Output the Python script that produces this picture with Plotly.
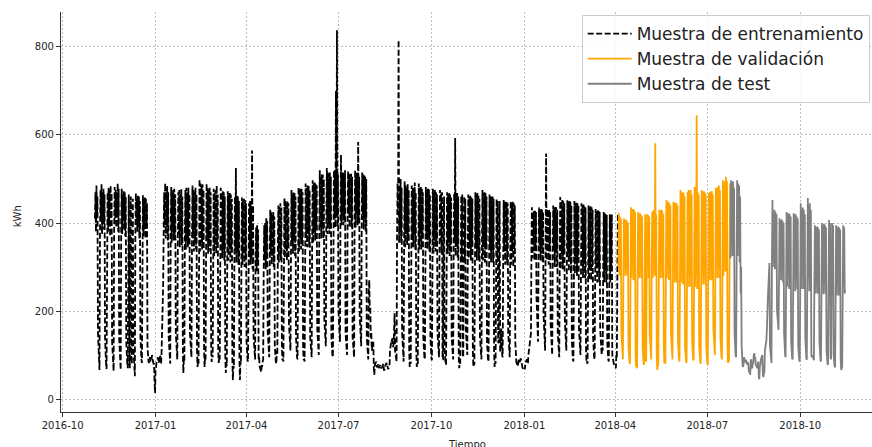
import pandas as pd
import plotly.graph_objects as go

# Energy consumption (kWh) sampled twice a day (00:00, 12:00);
# one row per Monday-Sunday week, values given as (night, midday) pairs.
train_start = "2016-11-02"
train_kwh = [
    410, 470, 380, 485, 415, 460, 150, 95, 80, 66,                        # 2016-11-02 .. 11-06
    380, 475, 410, 488, 375, 470, 400, 478, 385, 465, 140, 92, 80, 68,    # 11-07
    405, 470, 380, 480, 400, 472, 370, 486, 410, 468, 130, 88, 75, 64,    # 11-14
    385, 482, 410, 475, 390, 470, 415, 490, 380, 478, 135, 90, 78, 66,    # 11-21
    400, 478, 375, 465, 410, 472, 385, 470, 370, 460, 130, 85, 80, 70,    # 11-28
    380, 465, 90, 70, 395, 460, 90, 80, 365, 455, 120, 90, 70, 52,        # 12-05
    370, 468, 400, 455, 380, 462, 395, 460, 365, 450, 140, 95, 90, 82,    # 12-12
    395, 463, 370, 455, 385, 460, 365, 455, 390, 445, 120, 90, 85, 82,    # 12-19
    90, 95, 85, 88, 90, 100, 85, 85, 80, 80, 40, 14, 70, 72,              # 12-26
    85, 90, 88, 95, 82, 85, 90, 100, 80, 80, 110, 150, 200, 260,          # 2017-01-02
    370, 470, 395, 490, 365, 480, 390, 485, 360, 470, 140, 104, 90, 80,   # 01-09
    385, 482, 355, 470, 380, 475, 360, 478, 375, 465, 150, 111, 100, 90,  # 01-16
    350, 470, 375, 475, 345, 465, 370, 478, 350, 460, 110, 59, 90, 85,    # 01-23
    370, 475, 340, 480, 365, 470, 345, 480, 360, 465, 150, 118, 100, 95,  # 01-30
    340, 485, 365, 475, 335, 470, 360, 480, 340, 465, 110, 73, 85, 80,    # 02-06
    365, 500, 335, 490, 355, 485, 340, 488, 360, 475, 110, 73, 95, 90,    # 02-13
    335, 490, 360, 480, 330, 475, 355, 482, 335, 470, 120, 84, 100, 95,   # 02-20
    355, 478, 325, 470, 350, 475, 330, 485, 345, 465, 115, 82, 95, 90,    # 02-27
    325, 480, 345, 470, 320, 472, 340, 470, 315, 460, 100, 59, 80, 75,    # 03-06
    345, 472, 315, 465, 340, 468, 310, 465, 335, 455, 90, 43, 75, 70,     # 03-13
    315, 460, 340, 525, 310, 462, 335, 460, 305, 450, 90, 43, 85, 80,     # 03-20
    335, 458, 305, 450, 330, 455, 300, 452, 325, 445, 130, 95, 90, 85,    # 03-27
    300, 445, 325, 450, 305, 440, 320, 565, 295, 440, 140, 111, 95, 90,   # 04-03
    320, 390, 290, 395, 310, 385, 90, 95, 75, 70, 70, 61, 75, 75,         # 04-10
    85, 90, 290, 395, 315, 400, 295, 411, 320, 405, 150, 130, 100, 95,    # 04-17
    300, 430, 330, 425, 305, 420, 325, 425, 300, 415, 120, 89, 85, 80,    # 04-24
    110, 100, 335, 440, 310, 438, 340, 445, 315, 435, 120, 89, 90, 85,    # 05-01
    345, 457, 320, 450, 340, 448, 315, 450, 345, 445, 170, 141, 115, 110, # 05-08
    325, 475, 355, 465, 330, 470, 360, 468, 325, 460, 140, 104, 95, 90,   # 05-15
    360, 482, 335, 475, 365, 478, 340, 478, 360, 470, 120, 89, 90, 85,    # 05-22
    340, 490, 370, 480, 345, 485, 375, 485, 345, 475, 140, 111, 100, 95,  # 05-29
    380, 497, 355, 490, 380, 492, 360, 490, 385, 485, 160, 127, 105, 100, # 06-05
    360, 520, 390, 505, 365, 510, 395, 510, 365, 500, 180, 150, 125, 120, # 06-12
    395, 525, 375, 515, 400, 512, 375, 515, 395, 505, 140, 104, 100, 95,  # 06-19
    380, 520, 410, 520, 390, 700, 415, 838, 390, 510, 200, 164, 135, 130, # 06-26
    415, 555, 395, 515, 420, 515, 395, 510, 415, 520, 150, 118, 105, 100, # 07-03
    395, 518, 420, 510, 390, 512, 415, 512, 390, 505, 140, 111, 100, 95,  # 07-10
    415, 520, 390, 515, 420, 510, 395, 584, 410, 505, 190, 161, 125, 120, # 07-17
    390, 515, 420, 510, 385, 508, 415, 505, 380, 500, 140, 111, 95, 90,   # 07-24
    250, 270, 200, 210, 140, 150, 110, 115, 120, 130, 70, 55, 78, 80,     # 07-31
    80, 85, 72, 75, 78, 80, 70, 72, 75, 78, 72, 70, 72, 74,               # 08-07
    78, 80, 66, 65, 74, 76, 80, 82, 72, 75, 68, 70, 70, 73,               # 08-14
    110, 120, 125, 135, 130, 141, 118, 125, 150, 195, 110, 95, 88, 85,    # 08-21
    380, 490, 420, 816, 355, 470, 385, 500, 355, 480, 150, 111, 90, 85,   # 08-28
    375, 495, 345, 485, 380, 480, 350, 488, 370, 475, 110, 73, 85, 80,    # 09-04
    345, 485, 375, 480, 345, 478, 380, 492, 340, 470, 110, 73, 80, 78,    # 09-11
    370, 490, 340, 480, 375, 482, 340, 480, 365, 470, 140, 104, 95, 90,   # 09-18
    340, 482, 365, 475, 340, 478, 365, 478, 335, 465, 140, 104, 92, 88,   # 09-25
    365, 478, 330, 470, 360, 475, 335, 470, 360, 465, 150, 116, 100, 95,  # 10-02
    335, 475, 360, 468, 330, 470, 90, 90, 355, 460, 110, 82, 80, 78,      # 10-09
    360, 470, 330, 465, 355, 468, 325, 465, 350, 458, 140, 111, 95, 90,   # 10-16
    330, 468, 355, 593, 325, 465, 350, 468, 320, 460, 100, 70, 82, 80,    # 10-23
    355, 462, 320, 465, 100, 95, 350, 460, 320, 455, 160, 134, 105, 100,  # 10-30
    345, 465, 320, 460, 350, 462, 315, 458, 345, 455, 110, 73, 80, 78,    # 11-06
    320, 470, 345, 465, 315, 468, 345, 462, 315, 455, 140, 111, 95, 90,   # 11-13
    345, 475, 315, 468, 345, 470, 310, 468, 340, 460, 130, 95, 90, 85,    # 11-20
    315, 465, 340, 460, 310, 462, 340, 460, 310, 455, 110, 73, 85, 80,    # 11-27
    340, 455, 310, 450, 130, 127, 335, 450, 110, 110, 160, 150, 100, 95,  # 12-04
    310, 452, 335, 448, 305, 450, 335, 448, 305, 445, 150, 118, 100, 95,  # 12-11
    335, 450, 305, 445, 335, 448, 300, 445, 330, 440, 130, 95, 85, 80,    # 12-18
    80, 75, 88, 90, 85, 85, 90, 92, 82, 80, 72, 70, 68, 66,               # 12-25
    70, 68, 82, 85, 88, 90, 80, 82, 100, 110, 120, 130, 140, 150,         # 2018-01-01
    355, 436, 320, 425, 350, 430, 315, 428, 345, 425, 230, 195, 140, 130, # 01-08
    320, 435, 350, 430, 315, 432, 345, 430, 310, 425, 190, 157, 120, 110, # 01-15
    350, 558, 315, 432, 345, 430, 305, 432, 340, 425, 170, 134, 110, 100, # 01-22
    305, 440, 340, 436, 300, 438, 335, 436, 300, 430, 150, 118, 100, 95,  # 01-29
    335, 459, 295, 450, 330, 452, 295, 450, 330, 445, 180, 150, 115, 110, # 02-05
    295, 452, 325, 448, 290, 450, 320, 448, 285, 440, 130, 95, 90, 85,    # 02-12
    320, 450, 285, 445, 315, 446, 280, 445, 315, 440, 160, 127, 105, 100, # 02-19
    280, 445, 310, 440, 275, 442, 310, 440, 275, 435, 110, 82, 85, 80,    # 02-26
    310, 440, 270, 436, 305, 438, 270, 436, 300, 430, 140, 104, 95, 90,   # 03-05
    270, 432, 300, 428, 265, 430, 300, 428, 265, 425, 160, 134, 105, 100, # 03-12
    120, 110, 300, 425, 265, 422, 295, 420, 265, 418, 130, 95, 90, 85,    # 03-19
    295, 420, 265, 418, 300, 420, 100, 89, 85, 80, 78, 75, 72, 70,        # 03-26
    100, 95, 285, 420,                                                    # 04-02 .. 04-03
]

val_start = "2018-04-04"
val_kwh = [
    300, 422, 280, 415, 300, 410, 150, 111, 95, 90,                       # 04-04 .. 04-08
    280, 410, 305, 405, 280, 408, 300, 405, 280, 400, 120, 89, 85, 80,    # 04-09
    305, 436, 275, 430, 300, 432, 270, 430, 300, 425, 110, 73, 75, 70,    # 04-16
    280, 425, 305, 420, 275, 422, 300, 418, 275, 415, 120, 82, 80, 78,    # 04-23
    300, 420, 90, 85, 275, 420, 305, 418, 275, 415, 150, 111, 95, 90,     # 04-30
    305, 425, 275, 428, 305, 430, 280, 581, 300, 420, 100, 66, 78, 75,    # 05-07
    275, 430, 305, 428, 275, 430, 300, 428, 275, 420, 120, 82, 85, 80,    # 05-14
    300, 452, 275, 445, 300, 448, 270, 445, 295, 440, 150, 111, 95, 90,   # 05-21
    270, 448, 295, 445, 265, 446, 295, 445, 265, 440, 130, 95, 90, 85,    # 05-28
    295, 475, 265, 468, 290, 470, 260, 468, 290, 460, 120, 89, 85, 82,    # 06-04
    255, 470, 285, 475, 255, 472, 280, 475, 255, 465, 130, 95, 90, 88,    # 06-11
    285, 482, 255, 475, 280, 645, 250, 470, 280, 465, 120, 89, 85, 80,    # 06-18
    260, 475, 290, 470, 260, 472, 285, 470, 260, 465, 120, 82, 80, 78,    # 06-25
    300, 468, 270, 470, 300, 472, 270, 472, 300, 465, 160, 127, 105, 100, # 07-02
    275, 480, 305, 478, 275, 482, 300, 485, 275, 475, 140, 104, 95, 90,   # 07-09
    310, 497, 280, 490, 315, 495, 290, 505, 320, 495, 120, 82, 88, 85,    # 07-16
    300, 490,                                                             # 07-23
]

test_start = "2018-07-24"
test_kwh = [
    320, 497, 350, 490, 325, 495, 345, 480, 150, 104, 100, 95,            # 07-24 .. 07-29
    345, 497, 325, 490, 350, 485, 310, 460, 240, 300, 120, 80, 75, 73,    # 07-30
    90, 95, 85, 85, 88, 88, 80, 80, 82, 82, 65, 60, 58, 55,               # 08-06
    88, 90, 72, 70, 80, 82, 100, 104, 92, 95, 78, 75, 72, 70,             # 08-13
    80, 85, 50, 45, 75, 78, 90, 95, 95, 100, 55, 50, 58, 60,              # 08-20
    110, 120, 125, 134, 160, 180, 230, 260, 280, 309, 120, 95, 85, 82,    # 08-27
    320, 452, 300, 420, 325, 430, 295, 425, 315, 420, 200, 172, 165, 157, # 09-03
    275, 411, 300, 405, 270, 408, 295, 405, 265, 400, 150, 111, 100, 95,  # 09-10
    290, 425, 255, 420, 280, 422, 250, 420, 275, 415, 130, 95, 92, 90,    # 09-17
    250, 422, 275, 418, 245, 420, 270, 415, 250, 410, 120, 89, 88, 85,    # 09-24
    280, 445, 250, 430, 280, 435, 250, 430, 275, 420, 140, 104, 92, 89,   # 10-01
    250, 457, 275, 440, 245, 445, 265, 430, 100, 95, 100, 95, 90, 88,     # 10-08
    270, 395, 240, 390, 265, 392, 240, 390, 265, 385, 130, 95, 88, 85,    # 10-15
    240, 400, 262, 395, 238, 398, 260, 395, 240, 390, 110, 82, 80, 78,    # 10-22
    262, 407, 235, 400, 95, 90, 260, 400, 238, 395, 100, 77, 75, 72,      # 10-29
    258, 395, 235, 390, 260, 392, 235, 390, 255, 385, 90, 66, 72, 70,     # 11-05
    240, 395, 258, 390, 240, 248,                                         # 11-12 .. 11-14
]

x_ticks = ["2016-10", "2017-01", "2017-04", "2017-07", "2017-10",
           "2018-01", "2018-04", "2018-07", "2018-10"]
y_ticks = [0, 200, 400, 600, 800]

train_dates = pd.date_range(train_start, periods=len(train_kwh), freq="12h")
val_dates = pd.date_range(val_start, periods=len(val_kwh), freq="12h")
test_dates = pd.date_range(test_start, periods=len(test_kwh), freq="12h")

fig = go.Figure()
fig.add_trace(go.Scatter(
    x=train_dates, y=train_kwh, mode="lines", name="Muestra de entrenamiento",
    line=dict(color="black", width=1.8, dash="6px,2.5px"),
))
fig.add_trace(go.Scatter(
    x=val_dates, y=val_kwh, mode="lines", name="Muestra de validación",
    line=dict(color="#FFA500", width=1.8),
))
fig.add_trace(go.Scatter(
    x=test_dates, y=test_kwh, mode="lines", name="Muestra de test",
    line=dict(color="#808080", width=1.8),
))

axis_style = dict(
    showline=True, linecolor="#333333", linewidth=1.2,
    ticks="outside", ticklen=4, tickcolor="#333333", tickwidth=1,
    showgrid=True, gridcolor="#bdbdbd", gridwidth=0.8, griddash="2px,2px",
    zeroline=False, mirror=False,
    tickfont=dict(family="DejaVu Sans", size=10, color="#222222"),
)

fig.update_xaxes(
    type="date", range=["2016-09-29 10:00", "2018-12-11"],
    tickvals=[t + "-01" for t in x_ticks], ticktext=x_ticks,
    **axis_style,
)
fig.update_yaxes(
    range=[-29.5, 879.5], tickvals=y_ticks,
    **axis_style,
)

fig.update_layout(
    width=872, height=447,
    margin=dict(l=61, r=0, t=12, b=35),
    plot_bgcolor="white", paper_bgcolor="white",
    font=dict(family="DejaVu Sans", size=10, color="#222222"),
    showlegend=True,
    legend=dict(
        x=0.642, y=0.9925, xanchor="left", yanchor="top",
        bgcolor="rgba(255,255,255,0.85)", bordercolor="#cccccc", borderwidth=1,
        itemwidth=44,
        font=dict(family="DejaVu Sans", size=17, color="#222222"),
    ),
    annotations=[
        dict(text="Tiempo", xref="paper", yref="paper", x=0.5, y=-0.08,
             xanchor="center", yanchor="middle", showarrow=False,
             font=dict(family="DejaVu Sans", size=10, color="#222222")),
        dict(text="kWh", xref="paper", yref="paper", x=-0.054, y=0.49,
             xanchor="center", yanchor="middle", textangle=-90, showarrow=False,
             font=dict(family="DejaVu Sans", size=10, color="#222222")),
    ],
)

fig.write_html("out.html")
